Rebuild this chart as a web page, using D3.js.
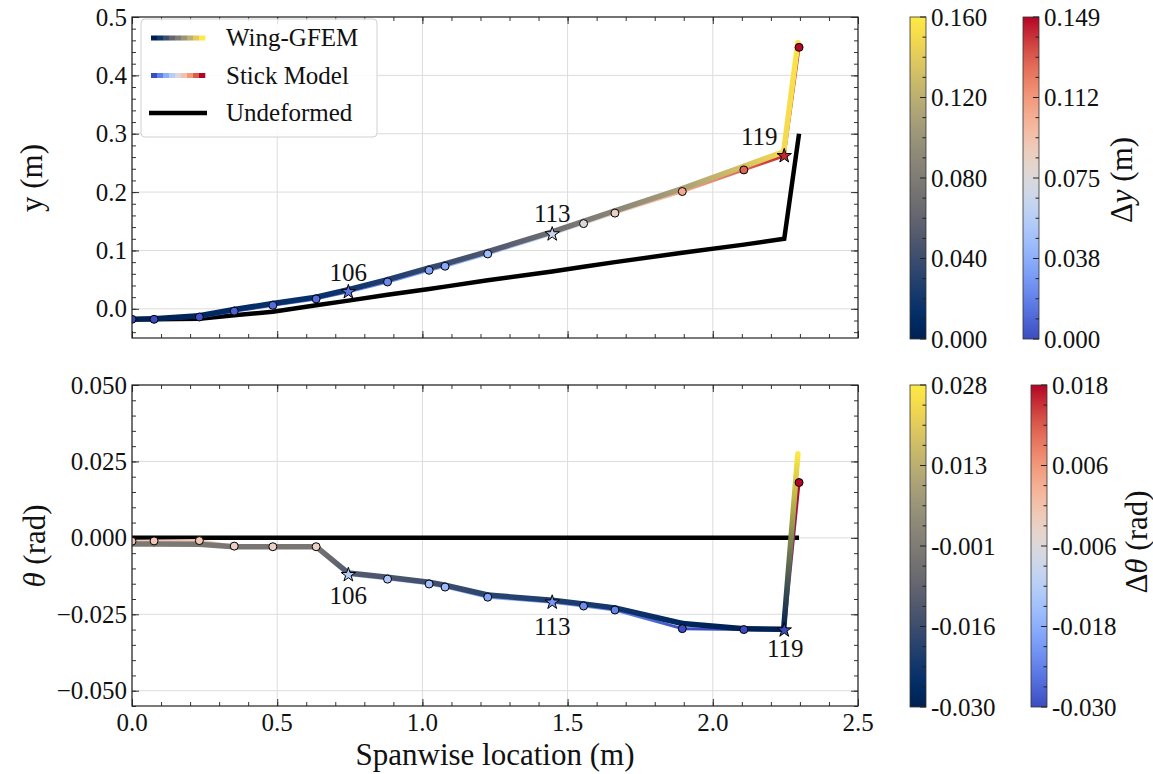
<!DOCTYPE html>
<html>
<head>
<meta charset="utf-8">
<script src="https://cdn.jsdelivr.net/npm/d3@7"></script>
<style>
  body { margin: 0; background: #fff; }
  text { font-family: "Liberation Serif", "DejaVu Serif", serif; fill: #111; }
</style>
</head>
<body>
<div id="chart"></div>
<script>
// spanwise node positions (m)
var spanX = [0.000, 0.076, 0.232, 0.352, 0.485, 0.634, 0.745, 0.880, 1.023, 1.078,
             1.225, 1.447, 1.555, 1.663, 1.895, 2.107, 2.246, 2.297];
var gfemX = [0.000, 0.076, 0.232, 0.352, 0.485, 0.634, 0.745, 0.880, 1.023, 1.078,
             1.225, 1.447, 1.555, 1.663, 1.895, 2.107, 2.244, 2.293];

// vertical position y (m)
var undefY = [-0.018, -0.018, -0.017, -0.011, -0.005, 0.006, 0.014, 0.024, 0.034, 0.038,
              0.049, 0.064, 0.072, 0.080, 0.096, 0.110, 0.120, 0.300];
var stickY = [-0.018, -0.018, -0.014, -0.004, 0.006, 0.017, 0.029, 0.046, 0.066, 0.073,
              0.094, 0.128, 0.146, 0.164, 0.201, 0.238, 0.262, 0.448];
var gfemY  = [-0.018, -0.017, -0.012, -0.001, 0.009, 0.020, 0.033, 0.050, 0.070, 0.077,
              0.098, 0.132, 0.150, 0.168, 0.206, 0.244, 0.269, 0.456];

// twist theta (rad)
var undefThetaX = [0.000, 2.297];
var undefTheta  = [0.000, 0.000];
var stickTheta = [-0.0011, -0.0010, -0.0009, -0.0027, -0.0029, -0.0029, -0.0121, -0.0135, -0.0151, -0.0161,
                  -0.0194, -0.0211, -0.0223, -0.0236, -0.0297, -0.0300, -0.0302, 0.0181];
var gfemTheta  = [-0.0020, -0.0020, -0.0021, -0.0029, -0.0029, -0.0029, -0.0115, -0.0129, -0.0145, -0.0155,
                  -0.0187, -0.0204, -0.0216, -0.0229, -0.0280, -0.0297, -0.0299, 0.0275];

// labelled nodes
var starIdx = [6, 11, 16];
var starLabels = ["106", "113", "119"];

// axis ticks
var xTicks = [0.0, 0.5, 1.0, 1.5, 2.0, 2.5];
var yTicksTop = [0.0, 0.1, 0.2, 0.3, 0.4, 0.5];
var yTicksBot = [-0.050, -0.025, 0.000, 0.025, 0.050];

// colorbars
var dyGfemRange = [0, 0.160],  dyGfemLabels  = ["0.000", "0.040", "0.080", "0.120", "0.160"];
var dyStickRange = [0, 0.149], dyStickLabels = ["0.000", "0.038", "0.075", "0.112", "0.149"];
var dtGfemRange = [-0.030, 0.028],  dtGfemLabels  = ["-0.030", "-0.016", "-0.001", "0.013", "0.028"];
var dtStickRange = [-0.030, 0.018], dtStickLabels = ["-0.030", "-0.018", "-0.006", "0.006", "0.018"];

var legendNames = ["Wing-GFEM", "Stick Model", "Undeformed"];

// ---------------------------------------------------------------
var W = 1153, H = 774;
var svg = d3.select("#chart").append("svg").attr("width", W).attr("height", H);
var defs = svg.append("defs");

var coolwarm = d3.interpolateRgbBasis(["#3b4cc0", "#5a78e4", "#7b9ff9", "#9ebeff", "#c0d4f5",
  "#dddcdc", "#f2cbb7", "#f7ac8e", "#ee8468", "#d65244", "#b40426"]);
var cividis = d3.interpolateCividis;

var x = d3.scaleLinear().domain([0, 2.5]).range([132, 858]);
var yTop = d3.scaleLinear().domain([-0.05, 0.5]).range([338, 17]);
var yBot = d3.scaleLinear().domain([-0.055, 0.050]).range([706, 385]);

var gradId = 0;
// draw a polyline where each segment is a gradient between node colours
function gradLine(g, xs, ys, cols, yS, width) {
  for (var i = 0; i < xs.length - 1; i++) {
    var x1 = x(xs[i]), y1 = yS(ys[i]), x2 = x(xs[i + 1]), y2 = yS(ys[i + 1]);
    var id = "gr" + (gradId++);
    var lg = defs.append("linearGradient").attr("id", id)
      .attr("gradientUnits", "userSpaceOnUse")
      .attr("x1", x1).attr("y1", y1).attr("x2", x2).attr("y2", y2);
    lg.append("stop").attr("offset", 0).attr("stop-color", cols[i]);
    lg.append("stop").attr("offset", 1).attr("stop-color", cols[i + 1]);
    g.append("line").attr("x1", x1).attr("y1", y1).attr("x2", x2).attr("y2", y2 + (y2 === y1 ? 0.01 : 0))
      .attr("stroke", "url(#" + id + ")").attr("stroke-width", width)
      .attr("stroke-linecap", "round");
  }
}

function panel(yS, yTicks, yMinor, yFmt, clipId) {
  var g = svg.append("g");
  var x0 = x.range()[0], x1 = x.range()[1], yb = yS.range()[0], yt = yS.range()[1];
  defs.append("clipPath").attr("id", clipId).append("rect")
    .attr("x", x0).attr("y", yt).attr("width", x1 - x0).attr("height", yb - yt);
  // grid
  g.selectAll(".gx").data(xTicks).enter().append("line")
    .attr("x1", d => x(d)).attr("x2", d => x(d)).attr("y1", yt).attr("y2", yb)
    .attr("stroke", "#dcdcdc").attr("stroke-width", 1);
  g.selectAll(".gy").data(yTicks).enter().append("line")
    .attr("y1", d => yS(d)).attr("y2", d => yS(d)).attr("x1", x0).attr("x2", x1)
    .attr("stroke", "#dcdcdc").attr("stroke-width", 1);
  // ticks (inward, all sides)
  var xMinor = d3.range(0, 2.5001, 0.1);
  var axes = [
    [d3.axisBottom(x), "translate(0," + yb + ")", xMinor, xTicks],
    [d3.axisTop(x), "translate(0," + yt + ")", xMinor, xTicks],
    [d3.axisLeft(yS), "translate(" + x0 + ",0)", yMinor, yTicks],
    [d3.axisRight(yS), "translate(" + x1 + ",0)", yMinor, yTicks]
  ];
  axes.forEach(function (a) {
    g.append("g").attr("transform", a[1])
      .call(a[0].tickValues(a[2]).tickSize(-4).tickFormat(""))
      .call(s => s.select(".domain").remove())
      .selectAll("line").attr("stroke", "#333");
    g.append("g").attr("transform", a[1])
      .call(a[0].tickValues(a[3]).tickSize(-7).tickFormat(""))
      .call(s => s.select(".domain").remove())
      .selectAll("line").attr("stroke", "#333");
  });
  // y tick labels
  g.selectAll(".yl").data(yTicks).enter().append("text")
    .attr("x", x0 - 5).attr("y", d => yS(d)).attr("dy", "0.34em")
    .attr("text-anchor", "end").attr("font-size", 25).text(yFmt);
  var plot = g.append("g").attr("clip-path", "url(#" + clipId + ")");
  g.append("rect").attr("x", x0).attr("y", yt).attr("width", x1 - x0).attr("height", yb - yt)
    .attr("fill", "none").attr("stroke", "#222").attr("stroke-width", 1.2);
  return { g: g, plot: plot };
}

function markers(g, ys, cols, yS) {
  spanX.forEach(function (d, i) {
    if (starIdx.indexOf(i) >= 0) {
      g.append("path").attr("d", d3.symbol().type(d3.symbolStar).size(64)())
        .attr("transform", "translate(" + x(d) + "," + yS(ys[i]) + ")")
        .attr("fill", cols[i]).attr("stroke", "#000").attr("stroke-width", 1);
    } else {
      g.append("circle").attr("cx", x(d)).attr("cy", yS(ys[i])).attr("r", 4)
        .attr("fill", cols[i]).attr("stroke", "#000").attr("stroke-width", 1);
    }
  });
}

// ---------- top panel ----------
var topPanel = panel(yTop, yTicksTop, d3.range(-0.04, 0.5001, 0.02), d3.format(".1f"), "clipTop");
var sTop = d3.scaleLinear().domain(dyStickRange).range([0, 1]).clamp(true);
var gTop = d3.scaleLinear().domain(dyGfemRange).range([0, 1]).clamp(true);
var gfemColTop = gfemY.map((v, i) => cividis(gTop(v - undefY[i])));
var stickColTop = stickY.map((v, i) => coolwarm(sTop(v - undefY[i])));

topPanel.plot.append("path").datum(spanX.map((d, i) => [d, undefY[i]]))
  .attr("d", d3.line().x(d => x(d[0])).y(d => yTop(d[1])))
  .attr("fill", "none").attr("stroke", "#000").attr("stroke-width", 4.5);
gradLine(topPanel.plot, spanX, stickY, stickColTop, yTop, 3);
gradLine(topPanel.plot, gfemX, gfemY, gfemColTop, yTop, 5.5);
markers(topPanel.plot, stickY, stickColTop, yTop);

var topOff = [[0, -11], [0, -12], [-25, -11]];
starIdx.forEach(function (k, j) {
  svg.append("text").attr("x", x(spanX[k]) + topOff[j][0]).attr("y", yTop(stickY[k]) + topOff[j][1])
    .attr("text-anchor", "middle").attr("font-size", 25).text(starLabels[j]);
});

// legend
var lg = svg.append("g");
lg.append("rect").attr("x", 141).attr("y", 19).attr("width", 236).attr("height", 118).attr("rx", 4)
  .attr("fill", "#fff").attr("fill-opacity", 0.85).attr("stroke", "#d0d0d0");
var legY = [38, 75.5, 113];
var nb = 9;
for (var b = 0; b < nb; b++) {
  var w = 54 / nb;
  lg.append("rect").attr("x", 151 + b * w).attr("y", legY[0] - 2.5).attr("width", w + 0.3).attr("height", 5)
    .attr("fill", cividis(b / (nb - 1)));
  lg.append("rect").attr("x", 151 + b * w).attr("y", legY[1] - 2.5).attr("width", w + 0.3).attr("height", 5)
    .attr("fill", coolwarm(b / (nb - 1)));
}
lg.append("line").attr("x1", 149).attr("x2", 207).attr("y1", legY[2]).attr("y2", legY[2])
  .attr("stroke", "#000").attr("stroke-width", 4.5);
legendNames.forEach(function (n, i) {
  lg.append("text").attr("x", 226).attr("y", legY[i]).attr("dy", "0.33em").attr("font-size", 25).text(n);
});

// ---------- bottom panel ----------
var botPanel = panel(yBot, yTicksBot, d3.range(-0.055, 0.0501, 0.005), d3.format(".3f"), "clipBot");
var sBot = d3.scaleLinear().domain(dtStickRange).range([0, 1]).clamp(true);
var gBot = d3.scaleLinear().domain(dtGfemRange).range([0, 1]).clamp(true);
var gfemColBot = gfemTheta.map(v => cividis(gBot(v)));
var stickColBot = stickTheta.map(v => coolwarm(sBot(v)));

botPanel.plot.append("path").datum(undefThetaX.map((d, i) => [d, undefTheta[i]]))
  .attr("d", d3.line().x(d => x(d[0])).y(d => yBot(d[1])))
  .attr("fill", "none").attr("stroke", "#000").attr("stroke-width", 4.5);
gradLine(botPanel.plot, spanX, stickTheta, stickColBot, yBot, 3);
gradLine(botPanel.plot, gfemX, gfemTheta, gfemColBot, yBot, 5.5);
markers(botPanel.plot, stickTheta, stickColBot, yBot);

var botOff = [[0, 29], [0, 33], [1, 27]];
starIdx.forEach(function (k, j) {
  svg.append("text").attr("x", x(spanX[k]) + botOff[j][0]).attr("y", yBot(stickTheta[k]) + botOff[j][1])
    .attr("text-anchor", "middle").attr("font-size", 25).text(starLabels[j]);
});

// x tick labels
svg.selectAll(".xl").data(xTicks).enter().append("text")
  .attr("x", d => x(d)).attr("y", 731).attr("text-anchor", "middle").attr("font-size", 25)
  .text(d3.format(".1f"));

// axis labels
svg.append("text").attr("x", 495).attr("y", 765).attr("text-anchor", "middle").attr("font-size", 31)
  .text("Spanwise location (m)");
svg.append("text").attr("transform", "translate(42,178) rotate(-90)").attr("text-anchor", "middle")
  .attr("font-size", 31).text("y (m)");
var tl = svg.append("text").attr("transform", "translate(45,546) rotate(-90)").attr("text-anchor", "middle")
  .attr("font-size", 31);
tl.append("tspan").attr("font-style", "italic").text("θ");
tl.append("tspan").text(" (rad)");

// ---------- colorbars ----------
function colorbar(x0, y0, y1, interp, labels, cid) {
  var w = 16;
  var lgd = defs.append("linearGradient").attr("id", cid).attr("x1", 0).attr("y1", 1).attr("x2", 0).attr("y2", 0);
  d3.range(0, 1.0001, 0.05).forEach(function (t) {
    lgd.append("stop").attr("offset", t).attr("stop-color", interp(t));
  });
  svg.append("rect").attr("x", x0).attr("y", y0).attr("width", w).attr("height", y1 - y0)
    .attr("fill", "url(#" + cid + ")").attr("stroke", "#333").attr("stroke-width", 0.8);
  var pos = d3.scaleLinear().domain([0, labels.length - 1]).range([y1, y0]);
  var minor = d3.scaleLinear().domain([0, (labels.length - 1) * 4]).range([y1, y0]);
  d3.range(0, (labels.length - 1) * 4 + 1).forEach(function (k) {
    var len = k % 4 === 0 ? 6 : 3.5;
    svg.append("line").attr("x1", x0 + w - len).attr("x2", x0 + w).attr("y1", minor(k)).attr("y2", minor(k))
      .attr("stroke", "#222").attr("stroke-width", 1);
  });
  labels.forEach(function (l, i) {
    svg.append("text").attr("x", x0 + w + 5).attr("y", pos(i)).attr("dy", "0.34em")
      .attr("font-size", 25).text(l);
  });
}
colorbar(910, 17, 339, cividis, dyGfemLabels, "cb1");
colorbar(1023, 17, 339, coolwarm, dyStickLabels, "cb2");
colorbar(910, 385, 707, cividis, dtGfemLabels, "cb3");
colorbar(1031, 385, 707, coolwarm, dtStickLabels, "cb4");

var dl = svg.append("text").attr("transform", "translate(1132,180) rotate(-90)").attr("text-anchor", "middle")
  .attr("font-size", 31);
dl.append("tspan").text("Δ");
dl.append("tspan").attr("font-style", "italic").text("y");
dl.append("tspan").text(" (m)");
var dt = svg.append("text").attr("transform", "translate(1147,542) rotate(-90)").attr("text-anchor", "middle")
  .attr("font-size", 31);
dt.append("tspan").text("Δ");
dt.append("tspan").attr("font-style", "italic").text("θ");
dt.append("tspan").text(" (rad)");
</script>
</body>
</html>
